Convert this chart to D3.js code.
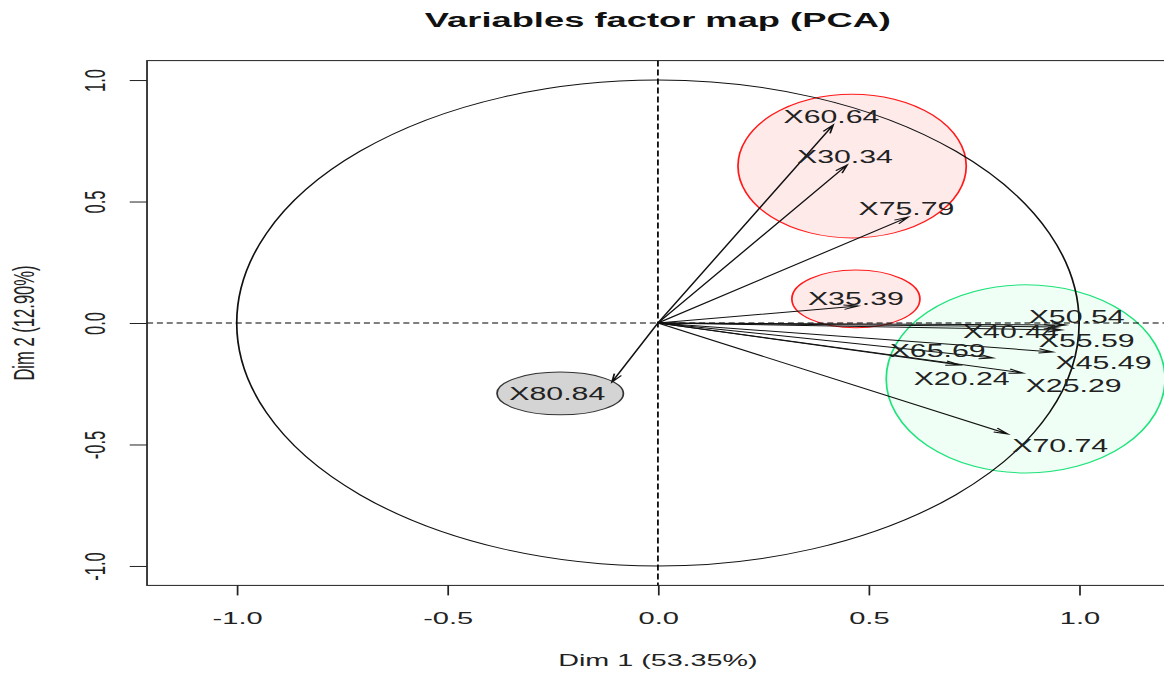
<!DOCTYPE html>
<html><head><meta charset="utf-8">
<script src="https://cdn.jsdelivr.net/npm/d3@7"></script>
<style>body{margin:0;background:#fff}svg{display:block}</style>
</head><body>
<svg id="c" width="1164" height="673"></svg>
<script>
// ---- data ----
const variables = ["X60.64","X30.34","X75.79","X35.39","X80.84","X50.54","X40.44","X55.59","X45.49","X65.69","X20.24","X25.29","X70.74"];
const dim1 = [0.416,0.449,0.594,0.475,-0.109,0.969,0.950,0.959,0.938,0.796,0.717,0.867,0.831];
const dim2 = [0.815,0.650,0.436,0.070,-0.243,-0.008,-0.016,-0.029,-0.119,-0.144,-0.173,-0.206,-0.457];
const labelDim1 = [0.412,0.444,0.590,0.470,-0.239,0.994,0.838,1.018,1.058,0.664,0.721,0.987,0.955];
const labelDim2 = [0.823,0.658,0.444,0.074,-0.317,0.000,-0.062,-0.099,-0.189,-0.140,-0.255,-0.284,-0.531];
const groups = ["top","mid","right","left"];
const groupCx = [0.461,0.470,0.873,-0.232];
const groupCy = [0.646,0.099,-0.230,-0.290];
const groupRx = [0.271,0.152,0.331,0.150];
const groupRy = [0.296,0.119,0.387,0.088];
const xTicks = [-1.0,-0.5,0.0,0.5,1.0];
const yTicks = [-1.0,-0.5,0.0,0.5,1.0];
const title = "Variables factor map (PCA)";
const xTitle = "Dim 1 (53.35%)";
const yTitle = "Dim 2 (12.90%)";

// ---- styles ----
const groupStyle = {
  top:   {fill:"#ffeaea", stroke:"#ff1a1a"},
  mid:   {fill:"#ffeaea", stroke:"#ff1a1a"},
  right: {fill:"#effff5", stroke:"#1ee37a"},
  left:  {fill:"#d4d4d4", stroke:"#333333"}
};
const FONT = "'Liberation Sans', Arial, sans-serif";
const W = 1164, H = 673, BASE = 673, SX = W / BASE;

const svg = d3.select("#c");
const g = svg.append("g").attr("transform", `scale(${SX},1)`);

const x = d3.scaleLinear().domain([-1.213, 1.213]).range([85, 675.8]);
const y = d3.scaleLinear().domain([-1.08, 1.08]).range([585.4, 60.6]);

// ellipses (groups)
g.selectAll("ellipse.grp").data(groups).join("ellipse")
  .attr("class","grp")
  .attr("cx",(d,i)=>x(groupCx[i])).attr("cy",(d,i)=>y(groupCy[i]))
  .attr("rx",(d,i)=>x(groupRx[i])-x(0)).attr("ry",(d,i)=>y(0)-y(groupRy[i]))
  .attr("fill",d=>groupStyle[d].fill).attr("stroke",d=>groupStyle[d].stroke)
  .attr("stroke-width",1);

// unit circle
g.append("ellipse")
  .attr("cx",x(0)).attr("cy",y(0))
  .attr("rx",x(1)-x(0)).attr("ry",y(0)-y(1))
  .attr("fill","none").attr("stroke","#111").attr("stroke-width",1);

// dashed axes at 0
g.append("line").attr("x1",x.range()[0]).attr("x2",x.range()[1])
  .attr("y1",y(0)).attr("y2",y(0))
  .attr("stroke","#000").attr("stroke-dasharray","3.5,2.2").attr("stroke-width",1.1);
g.append("line").attr("x1",x(0)).attr("x2",x(0))
  .attr("y1",y.range()[1]).attr("y2",y.range()[0])
  .attr("stroke","#000").attr("stroke-dasharray","6,3").attr("stroke-width",1);

// arrows
const HEAD = 8.5, ANG = 15*Math.PI/180;
const arrows = g.append("g").attr("stroke","#111").attr("stroke-width",1).attr("fill","none");
variables.forEach((v,i)=>{
  const x0=x(0), y0=y(0), x1=x(dim1[i]), y1=y(dim2[i]);
  const th = Math.atan2(y1-y0, x1-x0);
  const p = d3.path();
  p.moveTo(x0,y0); p.lineTo(x1,y1);
  p.moveTo(x1-HEAD*Math.cos(th-ANG), y1-HEAD*Math.sin(th-ANG)); p.lineTo(x1,y1);
  p.lineTo(x1-HEAD*Math.cos(th+ANG), y1-HEAD*Math.sin(th+ANG));
  arrows.append("path").attr("d",p.toString());
});

// labels
g.selectAll("text.lab").data(variables).join("text")
  .attr("class","lab")
  .attr("x",(d,i)=>x(labelDim1[i])).attr("y",(d,i)=>y(labelDim2[i]))
  .attr("text-anchor","middle").attr("font-family",FONT).attr("font-size",17.5)
  .attr("fill","#222").text(d=>d);

// box
g.append("rect").attr("x",x.range()[0]).attr("y",y.range()[1])
  .attr("width",x.range()[1]-x.range()[0]).attr("height",y.range()[0]-y.range()[1])
  .attr("fill","none").attr("stroke","#222").attr("stroke-width",1);

// x axis
const xa = g.append("g").attr("transform",`translate(0,${y.range()[0]})`)
  .call(d3.axisBottom(x).tickValues(xTicks).tickSize(10).tickFormat(d=>d.toFixed(1)));
xa.select(".domain").remove();
xa.selectAll(".tick line").attr("stroke","#222");
xa.selectAll(".tick text").attr("y",38.6).attr("dy",null)
  .attr("font-family",FONT).attr("font-size",16.8).attr("fill","#222");

// y axis
const ya = g.append("g").attr("transform",`translate(${x.range()[0]},0)`)
  .call(d3.axisLeft(y).tickValues(yTicks).tickSize(10).tickFormat(d=>d.toFixed(1)));
ya.select(".domain").remove();
ya.selectAll(".tick line").attr("stroke","#222");
ya.selectAll(".tick text").attr("x",null).attr("dy",null)
  .attr("transform","translate(-24.3,0) rotate(-90)")
  .attr("text-anchor","middle")
  .attr("font-family",FONT).attr("font-size",16.6).attr("fill","#222");

// titles
g.append("text").attr("x",x(0)).attr("y",27).attr("text-anchor","middle")
  .attr("font-family",FONT).attr("font-weight","bold").attr("font-size",21)
  .attr("fill","#111").text(title);
g.append("text").attr("x",x(0)).attr("y",666).attr("text-anchor","middle")
  .attr("font-family",FONT).attr("font-size",16.6).attr("fill","#222").text(xTitle);
g.append("text").attr("transform",`translate(19.7,${y(0)}) rotate(-90)`)
  .attr("text-anchor","middle")
  .attr("font-family",FONT).attr("font-size",16.6).attr("fill","#222").text(yTitle);
</script>
</body></html>
